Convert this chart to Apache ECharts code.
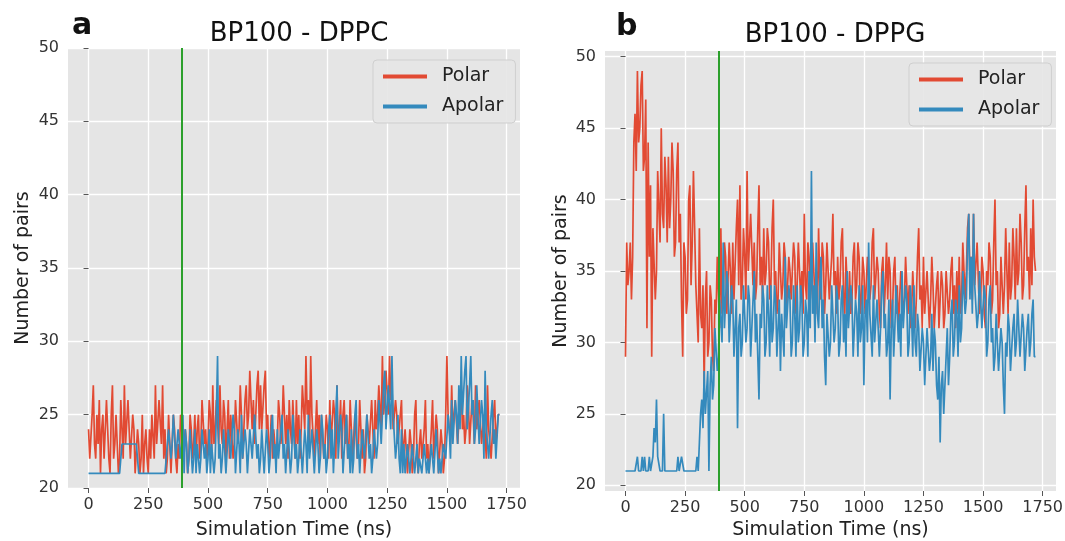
<!DOCTYPE html>
<html>
<head>
<meta charset="utf-8">
<script src="https://cdn.jsdelivr.net/npm/echarts@6/dist/echarts.min.js"></script>
<style>
html,body{margin:0;padding:0;background:#fff;}
#chart{width:1065px;height:541px;}
</style>
</head>
<body>
<div id="chart"></div>
<script>
// ---- data (sampled every 5 ns, 0 .. 1720 ns; one row = 100 ns) ----
const sampleStepNs = 5;
const xTicks = [0, 250, 500, 750, 1000, 1250, 1500, 1750];
const yTicks = [20, 25, 30, 35, 40, 45, 50];
const equilibrationTime = 390;
const panelTitles = ['BP100 - DPPC', 'BP100 - DPPG'];
const panelLetters = ['a', 'b'];
const seriesNames = ['Polar', 'Apolar'];

const polarDPPC = [
  24,22,22,25,27,23,22,25,23,26,21,24,25,22,22,26,24,22,21,25,
  27,22,23,25,25,21,22,26,24,22,27,23,23,26,26,22,22,25,24,21,
  21,24,23,21,22,25,21,23,24,22,21,24,22,25,25,22,27,23,23,26,
  26,23,27,22,24,21,22,25,23,21,21,25,24,22,21,23,22,25,24,22,
  22,24,23,21,22,25,24,22,23,25,22,24,25,22,23,26,26,23,24,22,
  23,26,25,22,27,23,24,26,26,23,27,24,23,26,25,22,24,26,22,25,
  25,22,23,26,26,23,24,27,25,22,22,26,27,24,25,28,28,24,26,23,
  25,27,28,24,27,24,24,27,28,24,25,22,23,25,22,24,24,22,23,26,
  25,23,24,27,27,23,25,22,26,24,23,26,24,22,26,23,25,22,24,27,
  27,24,29,25,26,23,29,25,25,22,24,26,23,25,22,25,25,22,23,25,
  24,22,26,23,23,26,25,22,27,23,24,26,22,25,26,23,25,22,23,26,
  24,22,22,25,25,22,23,26,26,22,24,21,22,25,25,23,23,26,24,22,
  26,24,25,27,27,24,29,25,26,28,28,25,29,26,27,24,24,26,25,23,
  23,25,26,22,22,24,24,21,21,24,23,21,22,25,26,22,21,23,24,22,
  22,24,26,22,23,21,21,24,26,22,22,25,24,21,21,24,23,21,22,25,
  29,25,25,23,27,24,24,26,26,23,23,26,27,24,25,23,24,27,26,23,
  23,26,25,23,27,24,24,26,26,23,23,25,25,22,27,24,24,22,22,25,
  26,23,23,25,25
];
const apolarDPPC = [
  21,21,21,21,21,21,21,21,21,21,21,21,21,21,21,21,21,21,21,21,
  21,21,21,21,21,21,21,21,23,23,23,23,23,23,23,23,23,23,23,23,
  23,23,21,21,21,21,21,21,21,21,21,21,21,21,21,21,21,21,21,21,
  21,21,21,21,21,22,22,24,24,22,23,25,25,22,22,24,24,22,23,25,
  21,24,23,21,22,24,24,21,22,24,21,23,23,21,22,24,24,22,23,21,
  22,24,21,23,23,21,22,25,29,22,23,21,22,24,24,21,21,24,23,22,
  22,25,24,21,21,24,23,21,25,22,22,24,23,21,21,24,24,22,22,25,
  25,22,23,21,22,24,24,21,21,24,23,21,22,24,25,22,23,21,24,22,
  22,24,25,22,23,21,21,24,24,21,22,25,25,22,23,21,22,24,24,21,
  21,24,23,21,25,22,22,24,24,21,21,24,23,21,22,25,24,22,23,21,
  22,24,25,22,24,21,23,25,27,22,22,25,24,21,21,24,25,22,23,21,
  24,21,22,25,26,22,23,21,21,24,24,22,22,25,25,22,23,21,22,24,
  24,22,23,26,26,23,25,27,28,24,24,27,27,24,29,25,25,22,23,25,
  22,21,24,21,23,21,21,23,22,21,21,23,23,21,22,23,21,22,22,21,
  21,23,23,21,22,21,21,23,22,21,21,24,24,21,22,21,21,23,23,22,
  22,25,24,22,26,23,23,26,25,23,27,24,29,25,25,28,29,24,24,27,
  29,25,26,23,24,27,27,23,23,26,25,22,28,24,24,22,22,25,26,23,
  24,22,22,25,25
];
const polarDPPG = [
  29,37,34,35,37,33,36,44,46,42,49,44,45,48,49,42,43,47,31,44,
  36,41,29,38,38,33,35,42,42,37,45,39,38,43,41,37,43,38,40,44,
  42,36,37,42,44,37,39,33,29,37,36,32,33,40,41,34,37,42,42,34,
  34,30,38,32,31,34,27,33,35,29,30,34,33,29,28,33,32,36,36,31,
  38,32,33,37,36,32,32,37,35,32,37,33,33,38,40,34,41,33,34,38,
  36,33,42,35,35,39,39,34,37,33,34,38,41,34,36,33,38,34,35,38,
  37,33,34,38,40,34,35,32,33,37,37,33,34,37,36,32,32,36,35,33,
  33,37,36,32,34,37,37,33,35,32,39,34,33,37,36,33,34,37,37,33,
  35,32,38,34,33,37,36,32,34,37,37,33,33,36,39,34,35,32,36,33,
  34,37,38,33,32,36,36,32,35,32,33,36,37,33,34,37,36,32,33,36,
  35,32,32,36,36,33,34,37,38,33,33,36,35,32,31,35,36,32,34,37,
  33,36,35,31,32,35,36,32,34,31,31,35,35,32,33,36,36,32,34,31,
  32,35,35,31,33,36,38,33,34,31,36,32,32,35,35,31,33,36,34,31,
  31,34,35,31,33,35,34,31,32,35,35,32,33,35,36,32,34,31,35,32,
  36,32,33,37,37,33,35,38,39,34,36,33,39,34,34,37,37,32,33,36,
  35,32,31,35,34,37,36,32,33,37,40,34,35,31,32,36,36,32,34,38,
  35,32,37,33,34,38,36,33,38,34,35,39,37,33,34,38,41,35,36,33,
  38,34,40,36,35
];
const apolarDPPG = [
  21,21,21,21,21,21,21,21,21,21,22,21,21,21,22,21,22,21,21,21,
  22,21,21,22,24,23,26,22,22,21,21,21,25,21,21,21,21,21,21,21,
  21,21,21,21,22,21,21,22,22,21,21,21,21,21,21,21,21,21,21,21,
  22,21,23,25,26,24,28,25,25,28,21,27,29,26,27,31,31,28,29,33,
  33,30,37,31,31,35,34,30,30,34,33,29,29,33,24,31,32,29,30,34,
  34,30,31,34,33,29,29,33,35,30,32,29,26,32,31,34,33,29,30,34,
  32,29,34,30,31,34,33,29,29,33,28,32,32,29,36,31,31,34,33,29,
  30,34,32,29,34,30,31,34,33,29,30,33,32,29,35,31,42,32,34,30,
  37,32,31,34,36,31,33,29,27,32,32,29,30,34,34,30,31,34,33,29,
  30,33,34,30,32,29,35,31,31,34,33,29,29,33,32,29,34,30,31,34,
  27,32,33,30,37,32,32,29,34,30,30,33,33,29,31,34,35,31,32,29,
  30,33,26,31,33,29,31,34,34,30,32,29,35,31,31,34,33,29,30,34,
  32,29,34,30,29,32,31,28,28,31,30,27,27,31,31,28,29,32,28,31,
  30,27,26,29,23,27,28,25,25,29,31,27,29,32,33,29,30,33,32,29,
  34,30,31,35,35,32,33,37,39,33,36,32,39,34,34,31,32,35,35,31,
  31,34,33,29,30,33,34,30,31,28,29,32,32,28,28,31,30,27,25,30,
  29,32,31,28,28,31,32,29,30,33,33,29,29,32,31,28,28,31,32,29,
  30,32,33,29,29
];

// ---- build ----
const pair = vals => vals.map((v, i) => [i * sampleStepNs, v]);

const RED = '#E24A33', BLUE = '#348ABD', GREEN = '#2ca02c';
const FONT = 'DejaVu Sans';

const grids = [
  {left: 68, top: 48, width: 452, height: 440},
  {left: 605, top: 51, width: 451, height: 440}
];
const yRanges = [[20, 50], [19.6, 50.4]];
const xNameGaps = [33, 30];
const yNameGaps = [35, 34];
const plain = v => String(v);

function xAxis(i) {
  return {
    type: 'value', gridIndex: i, min: -86, max: 1806,
    name: 'Simulation Time (ns)', nameLocation: 'middle', nameGap: xNameGaps[i],
    nameTextStyle: {fontFamily: FONT, fontSize: 19, color: '#222'},
    axisLine: {show: false},
    axisTick: {show: true, length: 5, lineStyle: {color: '#555', width: 1}, customValues: xTicks},
    axisLabel: {fontFamily: FONT, fontSize: 16, color: '#333', margin: 9, customValues: xTicks, formatter: plain},
    splitLine: {show: true, lineStyle: {color: '#fff', width: 1.3}}
  };
}
function yAxis(i) {
  return {
    type: 'value', gridIndex: i, min: yRanges[i][0], max: yRanges[i][1],
    name: 'Number of pairs', nameLocation: 'middle', nameGap: yNameGaps[i], nameRotate: 90,
    nameTextStyle: {fontFamily: FONT, fontSize: 19, color: '#222'},
    axisLine: {show: false},
    axisTick: {show: true, length: 5, lineStyle: {color: '#555', width: 1}, customValues: yTicks},
    axisLabel: {fontFamily: FONT, fontSize: 16, color: '#333', margin: 9, customValues: yTicks, formatter: plain},
    splitLine: {show: true, lineStyle: {color: '#fff', width: 1.3}}
  };
}
function lineSeries(name, color, vals, i, withMark) {
  const s = {
    name, type: 'line', xAxisIndex: i, yAxisIndex: i,
    data: pair(vals), showSymbol: false, symbol: 'none',
    lineStyle: {color, width: 1.7}, itemStyle: {color},
    animation: false, z: 3
  };
  if (withMark) {
    s.markLine = {
      silent: true, symbol: ['none', 'none'], label: {show: false},
      lineStyle: {color: GREEN, width: 2, type: 'solid'},
      data: [{xAxis: equilibrationTime}], animation: false
    };
  }
  return s;
}
function legend(i, left, top) {
  return {
    orient: 'vertical', left, top,
    data: seriesNames,
    icon: 'rect', itemWidth: 44, itemHeight: 4, itemGap: 11,
    padding: [7, 12, 7, 10],
    backgroundColor: 'rgba(229,229,229,0.9)', borderColor: '#cfcfcf', borderWidth: 1, borderRadius: 4,
    textStyle: {fontFamily: FONT, fontSize: 19, color: '#222', padding: [0, 0, 0, 10]}
  };
}

const option = {
  backgroundColor: '#fff',
  animation: false,
  title: [
    {text: panelTitles[0], left: 294, top: 16, textAlign: 'center', textStyle: {fontFamily: FONT, fontSize: 26, fontWeight: 'normal', color: '#111'}},
    {text: panelTitles[1], left: 830, top: 17, textAlign: 'center', textStyle: {fontFamily: FONT, fontSize: 26, fontWeight: 'normal', color: '#111'}},
    {text: panelLetters[0], left: 67, top: 6, textStyle: {fontFamily: FONT, fontSize: 30, fontWeight: 'bold', color: '#111'}},
    {text: panelLetters[1], left: 611, top: 7, textStyle: {fontFamily: FONT, fontSize: 30, fontWeight: 'bold', color: '#111'}}
  ],
  legend: [legend(0, 373, 60), legend(1, 909, 63)],
  grid: grids.map(g => Object.assign({show: true, backgroundColor: '#E5E5E5', borderWidth: 0, outerBoundsMode: 'none', containLabel: false}, g)),
  xAxis: [xAxis(0), xAxis(1)],
  yAxis: [yAxis(0), yAxis(1)],
  series: [
    lineSeries(seriesNames[0], RED, polarDPPC, 0, false),
    lineSeries(seriesNames[1], BLUE, apolarDPPC, 0, true),
    lineSeries(seriesNames[0], RED, polarDPPG, 1, false),
    lineSeries(seriesNames[1], BLUE, apolarDPPG, 1, true)
  ]
};

const chart = echarts.init(document.getElementById('chart'), null, {renderer: 'canvas'});
chart.setOption(option);
</script>
</body>
</html>
